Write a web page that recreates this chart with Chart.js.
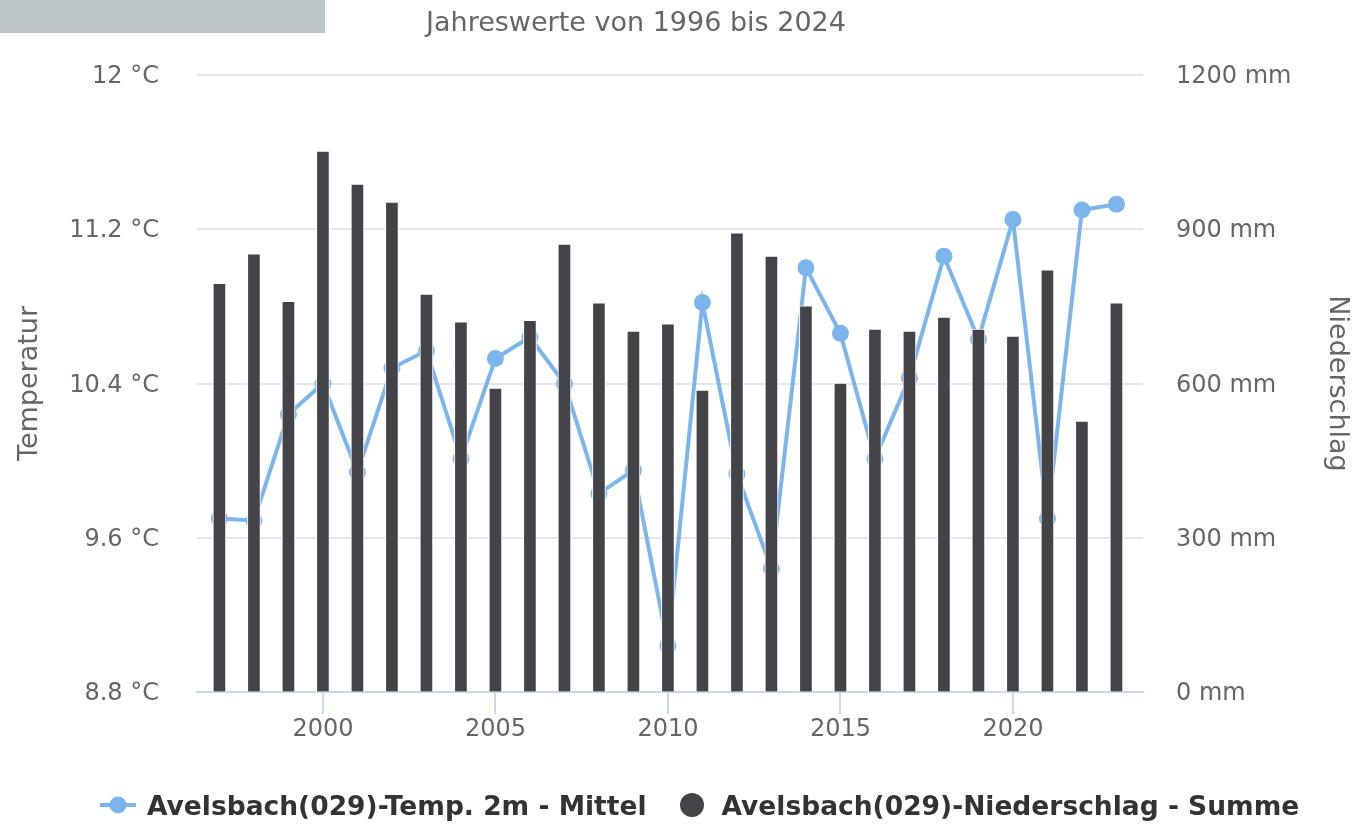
<!DOCTYPE html>
<html>
<head>
<meta charset="utf-8">
<script src="https://cdn.jsdelivr.net/npm/chart.js@4.4.1/dist/chart.umd.min.js"></script>
<style>
  body { margin: 0; background: #fff; font-family: 'DejaVu Sans', sans-serif; }
  #wrap { position: relative; width: 1353px; height: 824px; }
  #cap { position: absolute; left: 0; top: 0; width: 325px; height: 33px; background: #bec5c8; }
  #sub { position: absolute; left: 0; top: 6px; width: 1272px; text-align: center;
         font-size: 27px; line-height: 32px; color: #666; }
  #legend { position: absolute; left: 100px; top: 788px; height: 34px; display: flex;
            align-items: center; font-weight: bold; font-size: 26.5px; color: #333; white-space: nowrap; }
  #legend svg { flex: none; }
</style>
</head>
<body>
<div id="wrap">
  <canvas id="climateChart"></canvas>
  <div id="cap"></div>
  <div id="sub">Jahreswerte von 1996 bis 2024</div>
  <div id="legend"></div>
</div>
<script>
// Jahreswerte Avelsbach (029)
const years = [1997, 1998, 1999, 2000, 2001, 2002, 2003, 2004, 2005, 2006, 2007, 2008, 2009,
  2010, 2011, 2012, 2013, 2014, 2015, 2016, 2017, 2018, 2019, 2020, 2021, 2022, 2023];
const tempMean = [9.70, 9.69, 10.24, 10.40, 9.94, 10.48, 10.57, 10.01, 10.53, 10.64, 10.40, 9.83, 9.95,
  9.04, 10.82, 9.93, 9.44, 11.00, 10.66, 10.01, 10.43, 11.06, 10.63, 11.25, 9.70, 11.30, 11.33];
const precipSum = [795, 852, 760, 1052, 988, 953, 774, 720, 591, 723, 871, 757, 702,
  716, 587, 893, 848, 751, 601, 706, 702, 729, 706, 692, 821, 527, 757];

const yearTicks = [2000, 2005, 2010, 2015, 2020];
const tempTicks = [8.8, 9.6, 10.4, 11.2, 12];
const rainTicks = [0, 300, 600, 900, 1200];

Chart.defaults.font.family = "'DejaVu Sans', sans-serif";
Chart.defaults.color = '#666666';

const ctx = document.getElementById('climateChart').getContext('2d');
const climateChart = new Chart(ctx, {
  type: 'bar',
  data: {
    datasets: [{
      type: 'line',
      label: 'Avelsbach(029)-Temp. 2m - Mittel',
      data: years.map((y, i) => ({ x: y, y: tempMean[i] })),
      yAxisID: 'yTemp',
      borderColor: '#7cb5ec',
      backgroundColor: '#7cb5ec',
      borderWidth: 4,
      pointRadius: 8.5,
      pointHoverRadius: 8.5,
      pointBorderWidth: 0,
      tension: 0,
      order: 2
    }, {
      type: 'bar',
      label: 'Avelsbach(029)-Niederschlag - Summe',
      data: years.map((y, i) => ({ x: y, y: precipSum[i] })),
      yAxisID: 'yRain',
      backgroundColor: '#434348',
      borderColor: '#ffffff',
      borderWidth: 1,
      barThickness: 13,
      order: 1
    }]
  },
  options: {
    responsive: true,
    maintainAspectRatio: false,
    animation: false,
    layout: { padding: { top: 75, bottom: 0, left: 0, right: 0 } },
    plugins: {
      legend: { display: false },
      tooltip: { enabled: false }
    },
    scales: {
      x: {
        type: 'linear',
        min: 1996.35,
        max: 2023.77,
        offset: false,
        afterBuildTicks: s => { s.ticks = yearTicks.map(v => ({ value: v })); },
        afterFit: s => { s.height = 132; },
        grid: { offset: false, drawOnChartArea: false, tickLength: 22, color: '#ccd6eb', lineWidth: 2 },
        border: { display: true, color: '#ccd6eb', width: 2 },
        ticks: { font: { size: 24 }, padding: 1, maxRotation: 0, autoSkip: false, callback: v => String(v) }
      },
      yTemp: {
        position: 'left',
        min: 8.8,
        max: 12,
        afterBuildTicks: s => { s.ticks = tempTicks.map(v => ({ value: v })); },
        afterFit: s => { s.width = 197; },
        grid: { color: '#e6e6e6', lineWidth: 2, drawTicks: false },
        border: { display: false },
        ticks: { font: { size: 24 }, padding: 38, labelOffset: 2, callback: v => v + ' °C' },
        title: { display: true, text: 'Temperatur', font: { size: 27 }, padding: { top: 14, bottom: 0 } }
      },
      yRain: {
        position: 'right',
        min: 0,
        max: 1200,
        afterBuildTicks: s => { s.ticks = rainTicks.map(v => ({ value: v })); },
        afterFit: s => { s.width = 210; },
        grid: { drawOnChartArea: false, drawTicks: false },
        border: { display: false },
        ticks: { font: { size: 24 }, padding: 33, labelOffset: 2, callback: v => v + ' mm' },
        title: { display: true, text: 'Niederschlag', font: { size: 27 }, padding: { top: 0, bottom: 0 } }
      }
    }
  }
});

// legend in the Highcharts style: line+marker, then a round dot
function buildLegend(chart) {
  const box = document.getElementById('legend');
  chart.data.datasets.forEach((ds, i) => {
    let sym;
    if (ds.type === 'line') {
      sym = '<svg width="36" height="24"><line x1="0" y1="12" x2="36" y2="12" stroke="' + ds.borderColor +
        '" stroke-width="4"/><circle cx="18" cy="12" r="8.5" fill="' + ds.backgroundColor + '"/></svg>';
    } else {
      sym = '<svg width="24" height="24"><circle cx="12" cy="12" r="12" fill="' + ds.backgroundColor + '"/></svg>';
    }
    const item = document.createElement('span');
    item.style.display = 'flex';
    item.style.alignItems = 'center';
    item.style.marginLeft = i === 0 ? '0' : '33px';
    item.innerHTML = sym + '<span style="margin-left:' + (ds.type === 'line' ? 11 : 18) + 'px">' + ds.label + '</span>';
    box.appendChild(item);
  });
}
buildLegend(climateChart);
</script>
</body>
</html>
